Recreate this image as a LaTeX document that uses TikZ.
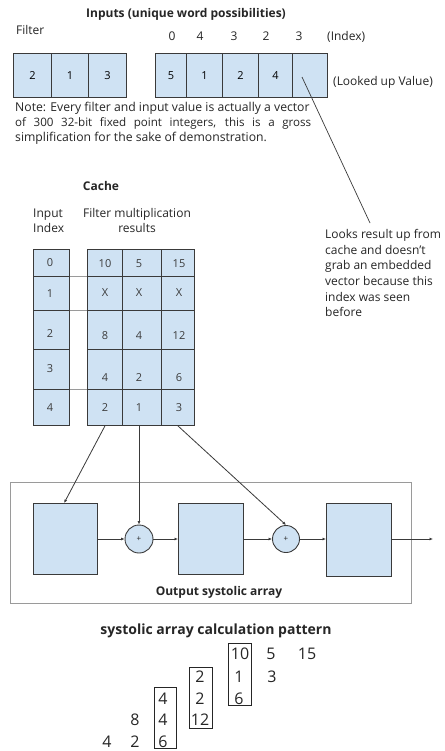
\documentclass[tikz,border=0pt]{standalone}
\usepackage{fontspec}
\setmainfont{Open Sans}
\usetikzlibrary{arrows.meta,calc}
\definecolor{cellfill}{HTML}{CFE2F3}
\definecolor{cellline}{HTML}{3A3A3A}
\definecolor{framegray}{HTML}{9A9A9A}
\definecolor{ink}{HTML}{262626}
\tikzset{
  cellbox/.style={draw=cellline, fill=cellfill, line width=0.9pt, inner sep=0pt},
  lbl/.style={inner sep=0pt, text=ink, font=\fontsize{12}{15.7}\selectfont},
  hdr/.style={inner sep=0pt, text=ink, font=\fontsize{12}{14}\selectfont\bfseries},
  val/.style={inner sep=0pt, text=ink!90, font=\fontsize{11}{13}\selectfont},
  big/.style={inner sep=0pt, text=ink, font=\fontsize{16}{19}\selectfont},
  flow/.style={draw=cellline, line width=0.8pt, -{Latex[length=3.5pt,width=3pt]}},
  leader/.style={draw=cellline, line width=0.7pt},
  gapline/.style={draw=framegray, line width=0.9pt},
  patbox/.style={draw=ink, line width=0.8pt, inner sep=0pt},
  addcirc/.style={circle, draw=cellline, fill=cellfill, line width=0.9pt, inner sep=0pt,
    font=\fontsize{8}{9}\selectfont, text=ink}
}
% cell given by its top-left and bottom-right corners
\newcommand\gridcell[6]{%
  \node[cellbox, anchor=north west, minimum width={#4-#2}, minimum height={#5-#3}] (#1) at (#2,#3) {#6};}
\begin{document}
\begin{tikzpicture}[x=1pt,y=-1pt]
\useasboundingbox[fill=white] (0,0) rectangle (444,751);

% ---------------- inputs ----------------
\node[hdr, anchor=base] (inTitle) at (186,18) {Inputs (unique word possibilities)};
\node[lbl, anchor=base west] (filterLbl) at (16,35) {Filter};

\node[lbl, anchor=base] (ix0lbl) at (172,40.5) {0};
\node[lbl, anchor=base] (ix1lbl) at (200,40.5) {4};
\node[lbl, anchor=base] (ix2lbl) at (234,40.5) {3};
\node[lbl, anchor=base] (ix3lbl) at (266,40.5) {2};
\node[lbl, anchor=base] (ix4lbl) at (299,40.5) {3};
\node[lbl, anchor=base west] (indexLbl) at (327,40.5) {(Index)};

\gridcell{f1}{13}{53}{51}{97}{\fontsize{11}{13}\selectfont 2}
\gridcell{f2}{51}{53}{88}{97}{\fontsize{11}{13}\selectfont 1}
\gridcell{f3}{88}{53}{126}{97}{\fontsize{11}{13}\selectfont 3}

\gridcell{in1}{155}{53}{186}{97}{\fontsize{11}{13}\selectfont 5}
\gridcell{in2}{186}{53}{222}{97}{\fontsize{11}{13}\selectfont 1}
\gridcell{in3}{222}{53}{258}{97}{\fontsize{11}{13}\selectfont 2}
\gridcell{in4}{258}{53}{292}{97}{\fontsize{11}{13}\selectfont 4}
\gridcell{in5}{292}{53}{327}{97}{}

\node[lbl, anchor=base west] (lookedLbl) at (333,86) {(Looked up Value)};

% note paragraph: first two lines justified
\node[lbl, font=\fontsize{12.2}{15.7}\selectfont, anchor=base west] (note1) at (15,112)
  {Note: Every filter and input value is actually a vector};
\node[lbl, font=\fontsize{11.6}{15.7}\selectfont, anchor=base west] (note2) at (15,127)
  {\makebox[296pt][s]{of 300 32-bit fixed point integers, this is a gross}};
\node[lbl, font=\fontsize{12.2}{15.7}\selectfont, anchor=base west] (note3) at (15,142)
  {simplification for the sake of demonstration.};

% ---------------- callout ----------------
\node[lbl, align=left, anchor=north west] (callout) at (325,229)
  {Looks result up from\\cache and doesn't\\grab an embedded\\vector because this\\index was seen\\before};
\coordinate (lookpt) at (302,77);
\draw[leader] (lookpt) -- ($(callout.north west)+(45,-6)$);

% ---------------- cache ----------------
\node[hdr, anchor=base] (cacheLbl) at (101,190.5) {Cache};
\node[lbl, align=left, anchor=base west] (inIdxLbl) at (33,218) {Input};
\node[lbl, anchor=base west] (inIdxLbl2) at (33,232) {Index};
\node[lbl, anchor=base] (fmLbl) at (137,218) {Filter multiplication};
\node[lbl, anchor=base] (fmLbl2) at (137,232) {results};

% index column
\gridcell{ix0}{33}{249}{69}{276}{}
\gridcell{ix1}{33}{276}{69}{310}{}
\gridcell{ix2}{33}{310}{69}{349}{}
\gridcell{ix3}{33}{349}{69}{389}{}
\gridcell{ix4}{33}{389}{69}{425}{}
% results grid
\foreach \r/\ya/\yb in {1/249/276, 2/276/310, 3/310/349, 4/349/389, 5/389/425}{
  \gridcell{r\r1}{87}{\ya}{122}{\yb}{}
  \gridcell{r\r2}{122}{\ya}{161}{\yb}{}
  \gridcell{r\r3}{161}{\ya}{194}{\yb}{}
}
% row separators running across the gap
\draw[gapline] (ix1.north east) -- (r21.north west);
\draw[gapline] (ix2.north east) -- (r31.north west);
\draw[gapline] (ix4.north east) -- (r51.north west);

% index values
\foreach \n/\t/\yy in {0/0/266, 1/1/297, 2/2/337, 3/3/372, 4/4/411}{
  \node[val, anchor=base] (ixv\n) at (50,\yy) {\t};
}
% filter products
\foreach \n/\a/\b/\c/\yy in {1/10/5/15/267, 2/X/X/X/296, 3/8/4/12/339, 4/4/2/6/381, 5/2/1/3/411}{
  \node[val, anchor=base] (pv\n a) at (105,\yy) {\a};
  \node[val, anchor=base] (pv\n b) at (139,\yy) {\b};
  \node[val, anchor=base] (pv\n c) at (179,\yy) {\c};
}

% ---------------- output systolic array ----------------
\node[draw=framegray, line width=1.1pt, anchor=north west, minimum width=401, minimum height=121, inner sep=0pt]
  (sysframe) at (10,482) {};
\gridcell{sb1}{33}{503}{97}{574}{}
\gridcell{sb2}{178}{503}{243}{574}{}
\gridcell{sb3}{326}{503}{391}{576}{}
\node[addcirc, minimum size=28] (sc1) at (139,539) {+};
\node[addcirc, minimum size=27] (sc2) at (286,539) {+};
\coordinate (sysout) at (433,539);
\node[hdr, anchor=base] (sysLbl) at (219,595) {Output systolic array};

\draw[flow] (sb1.east |- sc1) -- (sc1.west);
\draw[flow] (sc1.east) -- (sb2.west |- sc1);
\draw[flow] (sb2.east |- sc2) -- (sc2.west);
\draw[flow] (sc2.east) -- (sb3.west |- sc2);
\draw[flow] (sb3.east |- sysout) -- (sysout);

% cache results feeding the array
\draw[flow] (r51.south) -- ($(sb1.north west)!0.48!(sb1.north east)$);
\draw[flow] (r52.south -| sc1) -- (sc1.north);
\draw[flow] (r53.south) -- (sc2.north);

% ---------------- calculation pattern ----------------
\node[inner sep=0pt, text=ink, font=\fontsize{14}{16}\selectfont\bfseries, anchor=base]
  (patTitle) at (216,634) {systolic array calculation pattern};

\node[patbox, anchor=north west, minimum width=22, minimum height=61] (colA) at (154,687) {};
\node[patbox, anchor=north west, minimum width=23, minimum height=61] (colB) at (189,667) {};
\node[patbox, anchor=north west, minimum width=23, minimum height=62] (colC) at (228,643) {};

\foreach \nm/\t/\xx/\yy in {
  a1/10/240/659, a2/5/271/659, a3/15/307/659,
  b1/2/200/682, b2/1/239/682, b3/3/272/682,
  c1/4/163/704, c2/2/200/704, c3/6/239/704,
  d1/8/135/725, d2/4/163/725, d3/12/200/725,
  e1/4/107/747, e2/2/135/747, e3/6/163/747}{
  \node[big, anchor=base] (pt\nm) at (\xx,\yy) {\t};
}
\end{tikzpicture}
\end{document}
